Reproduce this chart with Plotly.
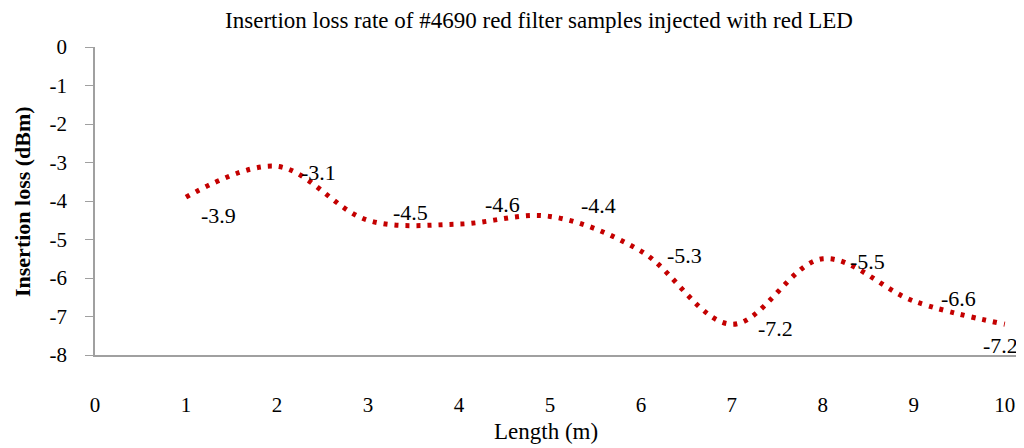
import plotly.graph_objects as go

lengths = [1, 2, 3, 4, 5, 6, 7, 8, 9, 10]
insertion_loss = [-3.9, -3.1, -4.5, -4.6, -4.4, -5.3, -7.2, -5.5, -6.6, -7.2]
x_ticks = [0, 1, 2, 3, 4, 5, 6, 7, 8, 9, 10]
y_ticks = [0, -1, -2, -3, -4, -5, -6, -7, -8]

# label offsets in pixels (style, not data)
label_dx = [33, 42, 43, 44, 49, 44, 44, 45, 45, -4]
label_dy = [-18, -6, 8, 20, 11, -4, -4, -3, 3, -21]

FONT = "Liberation Serif"
OFF = 8  # page body margin
W, H = 1024 - OFF, 448 - OFF
L = 95 - OFF
T = 47 - OFF
R = W - (1023 - OFF)
B = H - (355 - OFF)
PW = W - L - R
PH = H - T - B


def px_x(px):
    return (px - OFF - L) / PW


def px_y(py):
    return 1 - (py - OFF - T) / PH


fig = go.Figure()
fig.add_trace(go.Scatter(
    x=lengths, y=insertion_loss, mode="lines",
    line=dict(color="#c40000", width=5, dash="4px,7px", shape="spline", smoothing=1),
    showlegend=False, hoverinfo="skip",
))

for xv, yv, dx, dy in zip(lengths, insertion_loss, label_dx, label_dy):
    fig.add_annotation(x=xv, y=yv, text=f"{yv:.1f}", showarrow=False,
                       xshift=dx, yshift=dy, font=dict(family=FONT, size=22, color="#000"))

# axis titles
fig.add_annotation(text="Length (m)", xref="paper", yref="paper",
                   x=px_x(546), y=px_y(431), xanchor="center", yanchor="middle",
                   showarrow=False, font=dict(family=FONT, size=23, color="#000"))
fig.add_annotation(text="<b>Insertion loss (dBm)</b>", xref="paper", yref="paper", textangle=-90,
                   x=px_x(22), y=px_y(202), xanchor="center", yanchor="middle",
                   borderpad=0, showarrow=False, font=dict(family=FONT, size=22, color="#000"))

fig.update_layout(
    width=W, height=H,
    margin=dict(l=L, r=R, t=T, b=B, autoexpand=False),
    paper_bgcolor="white", plot_bgcolor="white",
    font=dict(family=FONT, size=21, color="#000"),
    title=dict(text="Insertion loss rate of #4690 red filter samples injected with red LED",
               x=(539 - OFF) / W, xanchor="center", y=1 - (20 - OFF) / H, yanchor="middle",
               font=dict(family=FONT, size=23, color="#000")),
    xaxis=dict(range=[0, 10.2], tickvals=x_ticks, ticktext=[str(v) for v in x_ticks],
               showline=True, linecolor="#a0a0a0", linewidth=1.5, showgrid=False,
               zeroline=False, ticks="", ticklabelstandoff=30, automargin=False,
               tickfont=dict(family=FONT, size=21)),
    yaxis=dict(range=[-8, 0], tickvals=y_ticks, ticktext=[str(v) for v in y_ticks],
               showline=True, linecolor="#a0a0a0", linewidth=1.5, showgrid=False,
               zeroline=False, ticks="outside", ticklen=8, tickcolor="#a0a0a0",
               ticklabelstandoff=14, automargin=False,
               tickfont=dict(family=FONT, size=21)),
)

fig.write_html("out.html")
